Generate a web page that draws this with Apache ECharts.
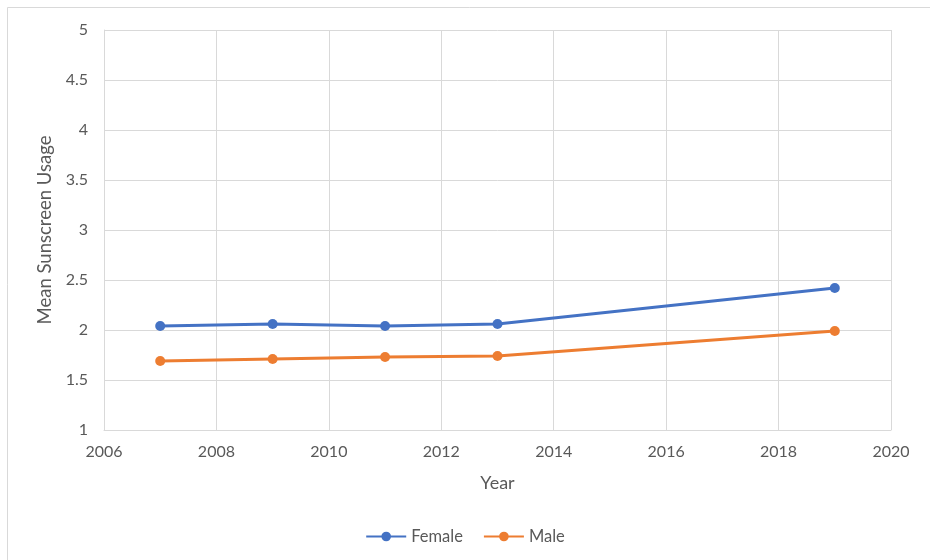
<!DOCTYPE html>
<html>
<head>
<meta charset="utf-8">
<script src="https://cdn.jsdelivr.net/npm/echarts@6/dist/echarts.min.js"></script>
<style>
  html, body { margin: 0; padding: 0; background: #fff; }
  #chart { width: 930px; height: 560px; }
</style>
</head>
<body>
<div id="chart"></div>
<script>
// Survey years and mean sunscreen usage by sex
const years = [2007, 2009, 2011, 2013, 2019];
const female = [2.04, 2.06, 2.04, 2.06, 2.42];
const male = [1.69, 1.71, 1.73, 1.74, 1.99];

const FONT = 'Lato, "Open Sans", sans-serif';
const TEXT = '#595959';

const pairs = (xs, ys) => xs.map((x, i) => [x, ys[i]]);

const chart = echarts.init(document.getElementById('chart'), null, { renderer: 'canvas' });

chart.setOption({
  animation: false,
  backgroundColor: '#fff',
  textStyle: { fontFamily: FONT },
  graphic: [{
    type: 'rect',
    shape: { x: 7.5, y: 7.5, width: 1000, height: 1000 },
    style: { fill: 'none', stroke: '#d9d9d9', lineWidth: 1 },
    silent: true
  }],
  grid: { left: 104, right: 39, top: 30, bottom: 130 },
  legend: {
    bottom: 10,
    left: 'center',
    itemWidth: 40,
    itemHeight: 12,
    itemGap: 20,
    textStyle: { fontFamily: FONT, fontSize: 16.5, color: TEXT, padding: [0, 0, 0, 0] },
    data: ['Female', 'Male']
  },
  xAxis: {
    type: 'value',
    min: 2006, max: 2020, interval: 2,
    name: 'Year',
    nameLocation: 'middle',
    nameGap: 44,
    nameTextStyle: { fontFamily: FONT, fontSize: 18, color: TEXT },
    axisLine: { show: true, lineStyle: { color: '#d9d9d9', width: 1 } },
    axisTick: { show: false },
    axisLabel: { color: TEXT, fontSize: 16, fontFamily: FONT, margin: 14, formatter: v => String(v) },
    splitLine: { show: true, lineStyle: { color: '#d9d9d9', width: 1 } }
  },
  yAxis: {
    type: 'value',
    min: 1, max: 5, interval: 0.5,
    name: 'Mean Sunscreen Usage',
    nameLocation: 'middle',
    nameGap: 49,
    nameTextStyle: { fontFamily: FONT, fontSize: 18.5, color: TEXT },
    axisLine: { show: true, lineStyle: { color: '#d9d9d9', width: 1 } },
    axisTick: { show: false },
    axisLabel: { color: TEXT, fontSize: 16, fontFamily: FONT, margin: 16 },
    splitLine: { show: true, lineStyle: { color: '#d9d9d9', width: 1 } }
  },
  series: [
    {
      name: 'Female',
      type: 'line',
      data: pairs(years, female),
      symbol: 'circle',
      symbolSize: 10,
      color: '#4472C4',
      lineStyle: { width: 3, color: '#4472C4' },
      itemStyle: { color: '#4472C4' }
    },
    {
      name: 'Male',
      type: 'line',
      data: pairs(years, male),
      symbol: 'circle',
      symbolSize: 10,
      color: '#ED7D31',
      lineStyle: { width: 3, color: '#ED7D31' },
      itemStyle: { color: '#ED7D31' }
    }
  ]
});
</script>
</body>
</html>
